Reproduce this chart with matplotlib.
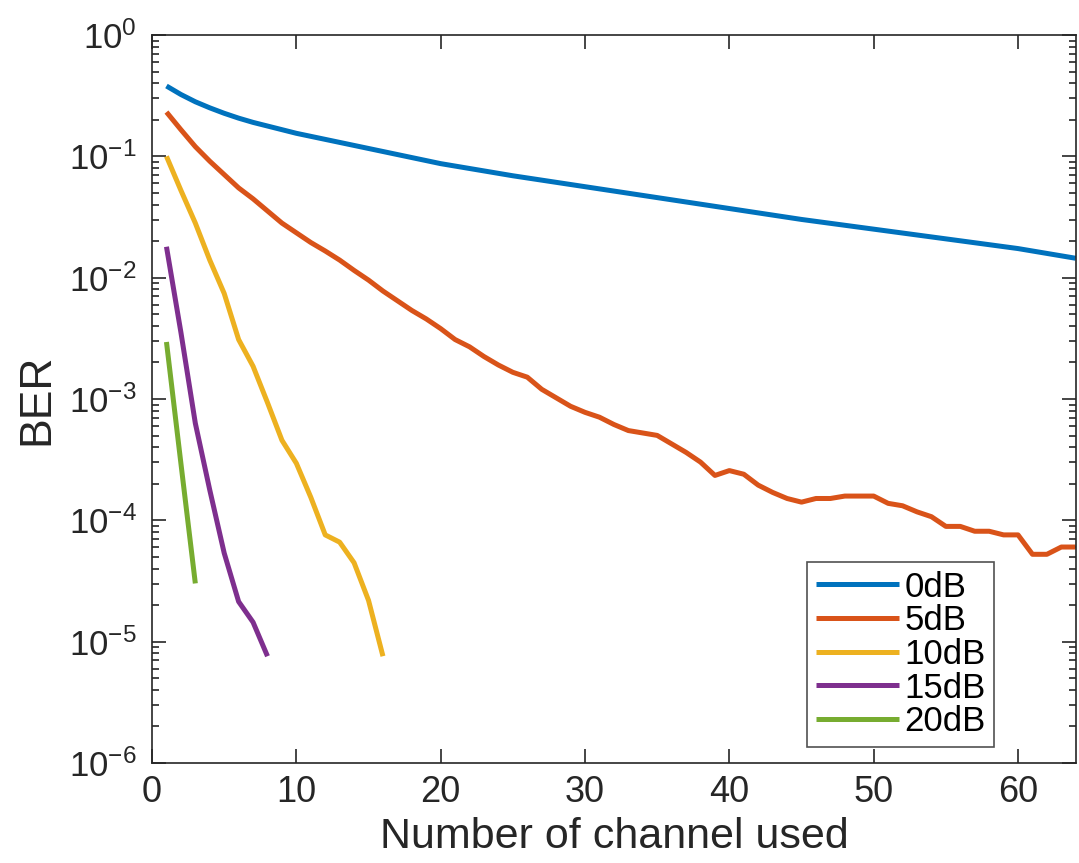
import matplotlib
matplotlib.use("Agg")
import matplotlib.pyplot as plt
import numpy as np

plt.rcParams['font.family'] = ['Liberation Sans', 'DejaVu Sans']
plt.rcParams['mathtext.fontset'] = 'custom'
plt.rcParams['mathtext.rm'] = 'Liberation Sans'
plt.rcParams['mathtext.it'] = 'Liberation Sans'
plt.rcParams['mathtext.bf'] = 'Liberation Sans'
plt.rcParams['axes.unicode_minus'] = False

labels = ['0dB', '5dB', '10dB', '15dB', '20dB']
colors = ['#0072BD', '#D95319', '#EDB120', '#7E2F8E', '#77AC30']

# values given as log10(BER)
x_0dB = [1, 2, 3, 4, 5, 6, 7, 8, 9, 10, 12, 14, 16, 18, 20, 25, 30, 35, 40, 45,
         50, 55, 60, 64]
log_0dB = [-0.42, -0.49, -0.55, -0.60, -0.645, -0.685, -0.72, -0.75, -0.78, -0.81,
           -0.86, -0.91, -0.96, -1.01, -1.06, -1.16, -1.25, -1.34, -1.43, -1.52,
           -1.60, -1.68, -1.76, -1.84]

x_5dB = list(range(1, 65))
log_5dB = [-0.635, -0.78, -0.92, -1.04, -1.15, -1.26, -1.35, -1.45, -1.55, -1.63,
           -1.71, -1.78, -1.855, -1.94, -2.02, -2.11, -2.19, -2.27, -2.34, -2.42,
           -2.51, -2.57, -2.65, -2.72, -2.78, -2.82, -2.92, -2.99, -3.06, -3.11,
           -3.15, -3.21, -3.26, -3.28, -3.30, -3.37, -3.44, -3.52, -3.63, -3.59,
           -3.62, -3.71, -3.77, -3.82, -3.85, -3.82, -3.82, -3.80, -3.80, -3.80,
           -3.86, -3.88, -3.93, -3.97, -4.05, -4.05, -4.09, -4.09, -4.12, -4.12,
           -4.28, -4.28, -4.22, -4.22]

x_10dB = list(range(1, 17))
log_10dB = [-1.0, -1.28, -1.55, -1.855, -2.13, -2.51, -2.73, -3.03, -3.34, -3.53,
            -3.81, -4.12, -4.18, -4.35, -4.66, -5.12]

x_15dB = list(range(1, 9))
log_15dB = [-1.745, -2.45, -3.2, -3.75, -4.27, -4.67, -4.84, -5.12]

x_20dB = [1, 2, 3]
log_20dB = [-2.53, -3.53, -4.52]

xs = [x_0dB, x_5dB, x_10dB, x_15dB, x_20dB]
logs = [log_0dB, log_5dB, log_10dB, log_15dB, log_20dB]

fig = plt.figure(figsize=(10.79, 8.63), dpi=100)
ax = fig.add_axes([0.1409, 0.1159, 0.8561, 0.8435])

for x, ly, c, lab in zip(xs, logs, colors, labels):
    ax.plot(x, 10.0 ** np.array(ly), color=c, lw=3.6, label=lab, solid_capstyle='butt')

ax.set_yscale('log')
ax.set_xlim(0, 64)
ax.set_ylim(1e-6, 1)
ax.set_xticks([0, 10, 20, 30, 40, 50, 60])
ax.set_yticks([1e-6, 1e-5, 1e-4, 1e-3, 1e-2, 1e-1, 1])
ax.tick_params(axis='both', which='both', direction='in', top=True, right=True,
               width=1.2, colors='#262626', labelcolor='#262626')
ax.tick_params(axis='x', which='major', labelsize=26)
ax.tick_params(axis='y', which='major', labelsize=25)
ax.tick_params(axis='both', which='major', length=10)
ax.tick_params(axis='x', which='major', pad=9)
ax.tick_params(axis='y', which='major', pad=11)
ax.tick_params(axis='y', which='minor', length=5)
for s in ax.spines.values():
    s.set_linewidth(1.2)
    s.set_color('#262626')

ax.set_xlabel('Number of channel used', fontsize=31, color='#262626', labelpad=5)
ax.set_ylabel('BER', fontsize=32, color='#262626', labelpad=8)

leg = ax.legend(loc='lower right', bbox_to_anchor=(0.912, 0.022), fontsize=25,
                frameon=True, fancybox=False, edgecolor='#262626', handlelength=2.4,
                handletextpad=0.15, labelspacing=0.02, borderpad=0.25,
                borderaxespad=0)
leg.get_frame().set_linewidth(1.2)

fig.savefig('out.png', dpi=100)
